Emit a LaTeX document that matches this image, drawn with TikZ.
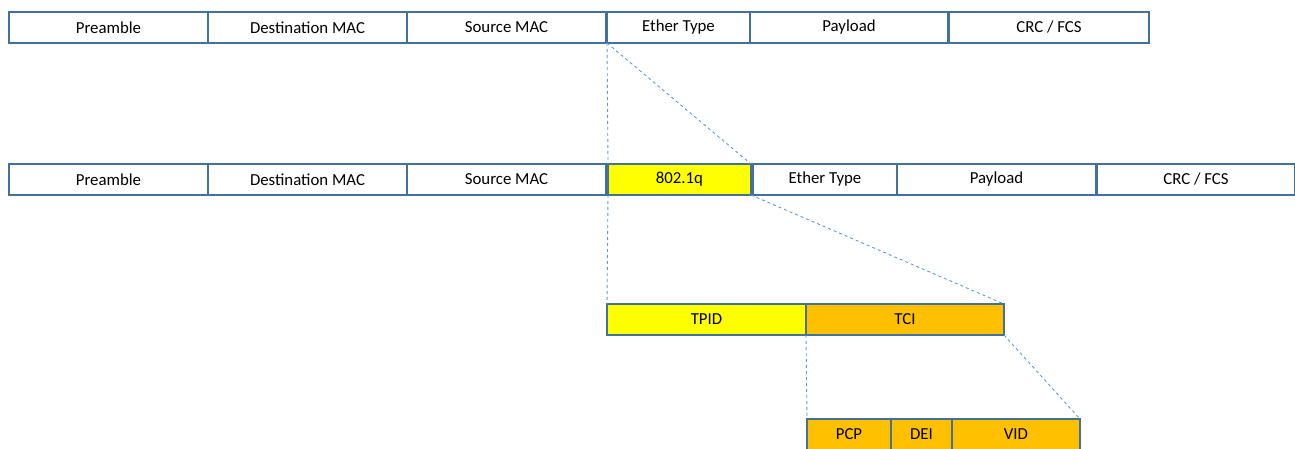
\documentclass[tikz,border=0pt]{standalone}
\usepackage{fontspec}
\setmainfont{Carlito}
\usepackage{tikz}
\usetikzlibrary{positioning}

\definecolor{boxline}{RGB}{65,113,156}
\definecolor{zoomline}{RGB}{91,155,213}
\definecolor{tagyellow}{RGB}{255,255,0}
\definecolor{tagorange}{RGB}{255,192,0}

\begin{document}
\begin{tikzpicture}[x=1pt,y=-1pt,
	field/.style={draw=boxline, line width=1.5pt, fill=white, minimum height=31pt, inner sep=0pt, outer sep=0pt, font=\fontsize{16.8}{19}\selectfont},
	zoom/.style={draw=zoomline, dashed, line width=0.9pt}]
			\useasboundingbox (0,0) rectangle (1295,449);

			% untagged frame
			\node[field, minimum width=199pt, anchor=north west] (pre1) at (9,12) {Preamble};
			\node[field, minimum width=199pt] (dmac1) [right=0pt of pre1] {Destination MAC};
			\node[field, minimum width=199pt] (smac1) [right=0pt of dmac1] {Source MAC};
			\node[field, minimum width=143pt] (ety1) [right=1pt of smac1] {Ether Type};
			\node[field, minimum width=198pt] (pay1) [right=0pt of ety1] {Payload};
			\node[field, minimum width=200pt] (crc1) [right=1pt of pay1] {CRC / FCS};

			% tagged frame
			\node[field, minimum width=199pt, anchor=north west] (pre2) at (9,164) {Preamble};
			\node[field, minimum width=199pt] (dmac2) [right=0pt of pre2] {Destination MAC};
			\node[field, minimum width=199pt] (smac2) [right=0pt of dmac2] {Source MAC};
			\node[field, minimum width=143pt, fill=tagyellow] (tag) [right=2pt of smac2] {802.1q};
			\node[field, minimum width=144pt] (ety2) [right=2pt of tag] {Ether Type};
			\node[field, minimum width=199pt] (pay2) [right=0pt of ety2] {Payload};
			\node[field, minimum width=198pt] (crc2) [right=1pt of pay2] {CRC / FCS};

			% 802.1q header
			\node[field, minimum width=199pt, fill=tagyellow, anchor=north west] (tpid) at (607,304) {TPID};
			\node[field, minimum width=198pt, fill=tagorange] (tci) [right=0pt of tpid] {TCI};

			% tag control information
			\node[field, minimum width=84pt, fill=tagorange, anchor=north west] (pcp) at (807,419) {PCP};
			\node[field, minimum width=61pt, fill=tagorange] (dei) [right=0pt of pcp] {DEI};
			\node[field, minimum width=128pt, fill=tagorange] (vid) [right=0pt of dei] {VID};

			\draw[zoom] (ety1.south west) -- (tag.north west);
			\draw[zoom] (ety1.south west) -- (tag.north east);
			\draw[zoom] (tag.south west) -- (tpid.north west);
			\draw[zoom] (tag.south east) -- (tci.north east);
			\draw[zoom] (tci.south west) -- (pcp.north west);
			\draw[zoom] (tci.south east) -- (vid.north east);
		\end{tikzpicture}
\end{document}
